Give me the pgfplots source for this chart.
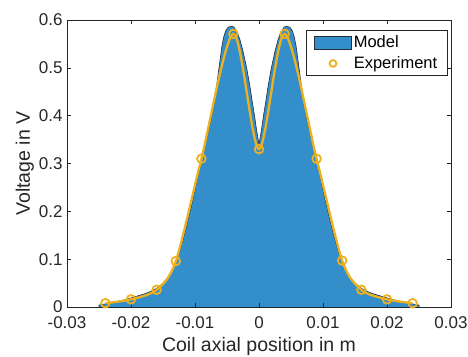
\documentclass[border=0pt]{standalone}
\usepackage{fontspec}
\setmainfont{Liberation Sans}
\usepackage{pgfplots}
\pgfplotsset{compat=1.18}

\definecolor{mblue}{RGB}{51,142,202}
\definecolor{medge}{RGB}{40,45,60}
\definecolor{morange}{RGB}{237,177,32}
\definecolor{axgray}{RGB}{38,38,38}

% Legend glyphs: a wide patch for the area, a single centred marker for the measurements
\pgfplotsset{
  patch legend/.style={legend image code/.code={\draw[##1] (0pt,-6.5pt) rectangle (37pt,6.5pt);}},
  marker legend/.style={legend image code/.code={\draw[##1, mark size=3.4pt] plot coordinates {(18.5pt,0pt)};}},
}

% Simulated coil voltage
\pgfplotstableread{
x y
-0.0250 0.000
-0.0250 0.004
-0.0240 0.0065
-0.0230 0.009
-0.0220 0.012
-0.0210 0.015
-0.0200 0.019
-0.0190 0.023
-0.0180 0.027
-0.0170 0.032
-0.0160 0.039
-0.0150 0.050
-0.0140 0.066
-0.0130 0.094
-0.0125 0.112
-0.0120 0.135
-0.0115 0.160
-0.0110 0.187
-0.0105 0.215
-0.0100 0.245
-0.0095 0.277
-0.0090 0.309
-0.0085 0.335
-0.0080 0.362
-0.0075 0.392
-0.0070 0.428
-0.0066 0.465
-0.0062 0.505
-0.0058 0.545
-0.0055 0.565
-0.0052 0.578
-0.0048 0.585
-0.0043 0.587
-0.0039 0.585
-0.0036 0.578
-0.0033 0.570
-0.0030 0.560
-0.0025 0.535
-0.0019 0.498
-0.0014 0.460
-0.0011 0.433
-0.0007 0.400
-0.0004 0.372
0.0000 0.340
0.0004 0.372
0.0007 0.400
0.0011 0.433
0.0014 0.460
0.0019 0.498
0.0025 0.535
0.0030 0.560
0.0033 0.570
0.0036 0.578
0.0039 0.585
0.0043 0.587
0.0048 0.585
0.0052 0.578
0.0055 0.565
0.0058 0.545
0.0062 0.505
0.0066 0.465
0.0070 0.428
0.0075 0.392
0.0080 0.362
0.0085 0.335
0.0090 0.309
0.0095 0.277
0.0100 0.245
0.0105 0.215
0.0110 0.187
0.0115 0.160
0.0120 0.135
0.0125 0.112
0.0130 0.094
0.0140 0.066
0.0150 0.050
0.0160 0.039
0.0170 0.032
0.0180 0.027
0.0190 0.023
0.0200 0.019
0.0210 0.015
0.0220 0.012
0.0230 0.009
0.0240 0.0065
0.0250 0.004
0.0250 0.000
}\modeldata

% Measured voltage
\pgfplotstableread{
x y
-0.024 0.008
-0.020 0.016
-0.016 0.036
-0.013 0.096
-0.009 0.310
-0.004 0.571
0.000 0.330
0.004 0.571
0.009 0.310
0.013 0.097
0.016 0.036
0.020 0.016
0.024 0.008
}\expdata

\begin{document}
\begin{tikzpicture}
\useasboundingbox (-67pt,-49pt) rectangle (401pt,307pt);
\begin{axis}[
  at={(0,0)}, anchor=south west,
  scale only axis, width=384pt, height=287pt,
  xmin=-0.03, xmax=0.03, ymin=0, ymax=0.6,
  xtick={-0.03,-0.02,-0.01,0,0.01,0.02,0.03},
  xticklabels={-0.03,-0.02,-0.01,0,0.01,0.02,0.03},
  ytick={0,0.1,0.2,0.3,0.4,0.5,0.6},
  yticklabels={0,0.1,0.2,0.3,0.4,0.5,0.6},
  scaled ticks=false,
  tick align=inside,
  major tick length=4.5pt,
  axis line style={axgray, line width=0.6pt},
  every tick/.style={axgray, line width=0.6pt},
  ticklabel style={font=\fontsize{17}{17}\selectfont, text=axgray},
  xticklabel style={yshift=-6pt},
  yticklabel style={xshift=-1pt},
  xlabel={Coil axial position in m},
  ylabel={Voltage in V},
  label style={font=\fontsize{19.5}{19.5}\selectfont, text=axgray},
  xlabel style={yshift=-1.5pt},
  ylabel style={yshift=-2pt},
  legend style={at={(0.9896,0.965)}, anchor=north east,
    draw=axgray, line width=0.5pt,
    font=\fontsize{16.5}{16.5}\selectfont,
    inner xsep=7.5pt, inner ysep=3.5pt, row sep=3.5pt},
  legend cell align=left,
  axis on top,
]
\addplot[fill=mblue, draw=medge, line width=0.6pt, patch legend]
  table[x=x, y=y] {\modeldata};
\addlegendentry{Model}

\addplot[morange, line width=2.3pt, smooth, tension=0.5, forget plot]
  table[x=x, y=y] {\expdata};

\addplot[only marks, mark=o, mark size=4.3pt,
  mark options={morange, line width=1.8pt}, marker legend]
  table[x=x, y=y] {\expdata};
\addlegendentry{Experiment}
\end{axis}
\end{tikzpicture}
\end{document}
